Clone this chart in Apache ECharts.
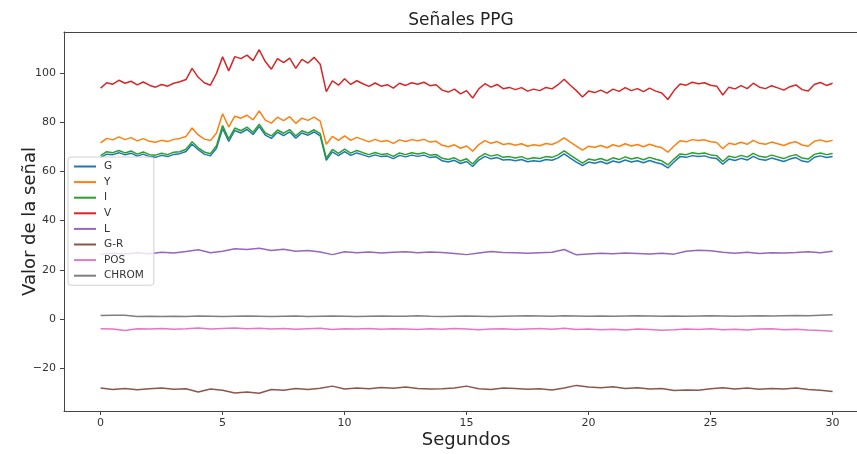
<!DOCTYPE html>
<html>
<head>
<meta charset="utf-8">
<script src="https://cdn.jsdelivr.net/npm/echarts@6/dist/echarts.min.js"></script>
<style>
  html, body { margin: 0; padding: 0; background: #fff; }
  #main { width: 857px; height: 454px; }
</style>
</head>
<body>
<div id="main"></div>
<script>
// señales muestreadas cada 0.25 s (G, Y, I, V) y cada 0.5 s (resto)
var stepFine = 0.25;
var stepCoarse = 0.5;

var gVals = [65.6, 67.0, 66.8, 67.6, 66.7, 67.4, 66.2, 67.0, 66.0, 65.7, 66.5, 66.0, 66.9, 67.2, 68.1, 71.0, 68.8, 67.0, 66.3, 69.4,
  77.4, 72.2, 76.6, 75.6, 77.0, 75.0, 78.2, 74.7, 73.4, 75.9, 74.5, 76.0, 73.5, 75.6, 74.7, 76.0, 74.4, 64.5, 67.9, 66.4,
  68.0, 66.5, 67.5, 66.7, 65.9, 66.7, 66.0, 66.2, 65.2, 66.5, 65.9, 66.6, 66.1, 66.6, 65.6, 65.9, 64.3, 63.8, 64.5, 63.2,
  64.0, 62.0, 64.6, 66.1, 65.1, 65.6, 64.6, 64.8, 64.3, 64.8, 63.9, 64.3, 64.0, 64.8, 64.5, 65.5, 67.1, 65.4, 63.8, 62.3,
  63.8, 63.3, 64.0, 63.1, 64.2, 63.6, 64.6, 63.8, 64.3, 63.5, 64.4, 63.6, 63.0, 61.4, 63.8, 66.0, 65.7, 66.4, 66.0, 66.3,
  65.5, 65.2, 62.9, 65.0, 64.4, 65.3, 64.6, 66.1, 64.9, 64.5, 65.4, 64.7, 64.0, 65.0, 65.6, 64.2, 63.8, 65.7, 66.3, 65.6, 66.0];

var yVals = [71.6, 73.4, 72.8, 74.0, 72.9, 73.7, 72.4, 73.3, 72.2, 71.8, 72.6, 72.1, 73.0, 73.4, 74.2, 77.6, 74.8, 73.1, 72.5, 75.6,
  83.4, 78.0, 82.4, 81.6, 82.8, 80.9, 84.6, 80.8, 79.6, 82.0, 80.6, 82.2, 79.5, 81.6, 80.7, 82.0, 80.4, 71.0, 74.2, 72.6,
  74.4, 72.6, 73.8, 72.9, 72.0, 73.0, 72.1, 72.5, 71.4, 72.8, 72.1, 72.9, 72.4, 73.0, 71.9, 72.2, 70.6, 70.0, 70.8, 69.4,
  70.3, 68.2, 70.9, 72.5, 71.4, 72.1, 70.9, 71.3, 70.6, 71.2, 70.2, 70.8, 70.4, 71.3, 70.9, 72.0, 73.6, 71.9, 70.3, 68.6,
  70.2, 69.8, 70.5, 69.6, 70.8, 70.1, 71.2, 70.3, 70.9, 70.0, 71.0, 70.2, 69.6, 67.8, 70.3, 72.4, 72.0, 72.9, 72.5, 72.8,
  72.0, 71.7, 69.2, 71.4, 70.9, 71.8, 71.0, 72.6, 71.4, 71.0, 71.9, 71.2, 70.5, 71.5, 72.0, 70.7, 70.2, 72.2, 72.8, 72.0, 72.6];

var iVals = [66.4, 68.0, 67.6, 68.5, 67.5, 68.3, 67.0, 67.9, 66.8, 66.6, 67.4, 66.8, 67.8, 68.0, 69.0, 72.0, 69.6, 67.9, 67.2, 70.4,
  78.6, 73.2, 77.6, 76.5, 78.0, 75.9, 79.2, 75.6, 74.4, 76.8, 75.5, 77.0, 74.4, 76.5, 75.6, 76.9, 75.3, 65.4, 68.9, 67.3,
  69.0, 67.4, 68.5, 67.6, 66.8, 67.7, 66.9, 67.2, 66.1, 67.5, 66.8, 67.6, 67.1, 67.6, 66.6, 66.9, 65.3, 64.8, 65.5, 64.2,
  65.1, 63.0, 65.7, 67.2, 66.2, 66.8, 65.7, 66.0, 65.4, 66.0, 65.0, 65.5, 65.2, 66.0, 65.7, 66.7, 68.3, 66.6, 65.0, 63.4,
  65.0, 64.5, 65.2, 64.3, 65.5, 64.8, 65.9, 65.0, 65.6, 64.7, 65.7, 64.9, 64.3, 62.6, 65.0, 67.1, 66.8, 67.6, 67.2, 67.5,
  66.7, 66.4, 64.0, 66.2, 65.6, 66.5, 65.8, 67.3, 66.1, 65.7, 66.6, 65.9, 65.2, 66.2, 66.8, 65.4, 65.0, 66.9, 67.5, 66.8, 67.3];

var vVals = [93.8, 96.0, 95.4, 97.0, 95.8, 96.6, 95.1, 96.3, 95.0, 94.2, 95.3, 94.6, 95.8, 96.4, 97.3, 101.8, 98.2, 96.0, 95.0, 99.8,
  106.5, 100.8, 106.6, 105.8, 107.2, 105.0, 109.4, 104.6, 101.5, 105.8, 104.2, 106.0, 101.8, 105.5, 104.0, 106.3, 103.5, 92.4, 96.8, 95.0,
  97.6, 95.3, 96.8, 95.6, 94.5, 95.9, 94.6, 95.2, 93.8, 95.8, 94.9, 96.0, 95.4, 96.2, 94.8, 95.2, 93.0, 92.2, 93.4, 91.5,
  92.8, 89.8, 93.5, 95.6, 94.2, 95.3, 93.6, 94.1, 93.2, 94.0, 92.6, 93.4, 92.8, 94.1, 93.5, 95.2, 97.4, 95.0, 92.8, 90.2,
  92.6, 92.0, 93.0, 91.8, 93.4, 92.5, 94.0, 92.8, 93.6, 92.4, 93.8, 92.6, 91.8, 89.2, 92.8, 95.5, 95.0, 96.2, 95.6, 96.0,
  95.0, 94.6, 91.0, 94.2, 93.5, 94.8, 93.6, 95.8, 94.2, 93.6, 94.8, 93.9, 93.0, 94.4, 95.1, 93.2, 92.6, 95.3, 96.1, 94.9, 95.8];

var lVals = [26.3, 26.8, 26.5, 27.0, 26.6, 27.2, 26.9, 27.5, 28.2, 27.0, 27.6, 28.6, 28.3, 28.8, 27.9, 28.4, 27.6, 27.9, 27.3, 26.2,
  27.4, 27.0, 27.3, 26.9, 27.2, 27.4, 27.0, 27.3, 27.1, 26.7, 26.2, 26.9, 27.5, 27.1, 27.0, 26.8, 27.0, 27.2, 28.3, 26.1,
  26.5, 26.8, 26.6, 26.9, 26.7, 26.5, 26.8, 26.4, 27.6, 28.0, 27.8, 27.2, 26.8, 27.2, 26.7, 27.0, 26.9, 27.1, 27.4, 27.0, 27.6];

var grVals = [-28.0, -28.6, -28.2, -28.7, -28.3, -28.0, -28.5, -28.3, -29.6, -28.4, -28.9, -30.0, -29.6, -30.1, -28.6, -28.9, -28.2, -28.6, -28.1, -27.2,
  -28.4, -28.0, -28.3, -27.8, -28.1, -27.6, -28.2, -28.4, -28.3, -28.0, -27.2, -28.3, -28.6, -28.0, -28.2, -28.5, -28.3, -28.8, -28.0, -26.9,
  -27.6, -27.9, -27.5, -28.2, -27.9, -28.4, -28.2, -29.0, -28.8, -28.9, -28.3, -27.9, -28.4, -28.0, -28.5, -28.2, -28.4, -28.0, -28.6, -28.9, -29.4];

var posVals = [-3.9, -4.0, -4.6, -3.9, -4.0, -3.8, -4.1, -3.9, -3.6, -4.0, -3.8, -3.6, -3.9, -3.7, -4.0, -3.8, -4.1, -3.9, -3.7, -4.2,
  -3.9, -4.0, -3.8, -4.1, -3.9, -4.0, -4.2, -3.9, -4.1, -3.8, -4.0, -4.3, -4.0, -3.9, -4.2, -4.0, -3.8, -4.1, -3.7, -4.2,
  -4.0, -4.3, -4.1, -4.4, -4.0, -4.2, -4.5, -4.3, -4.0, -4.2, -3.9, -4.3, -4.1, -4.4, -4.0, -3.9, -4.3, -4.1, -4.4, -4.6, -4.9];

var chromVals = [1.5, 1.6, 1.6, 1.1, 1.2, 1.1, 1.2, 1.1, 1.3, 1.2, 1.1, 1.2, 1.3, 1.2, 1.1, 1.2, 1.3, 1.1, 1.2, 1.3,
  1.2, 1.1, 1.2, 1.3, 1.2, 1.2, 1.4, 1.2, 1.1, 1.2, 1.3, 1.2, 1.1, 1.2, 1.3, 1.4, 1.3, 1.2, 1.4, 1.3,
  1.2, 1.3, 1.2, 1.3, 1.4, 1.3, 1.2, 1.3, 1.2, 1.3, 1.4, 1.3, 1.2, 1.3, 1.4, 1.3, 1.4, 1.5, 1.4, 1.6, 1.8];

var xTicks = [0, 5, 10, 15, 20, 25, 30];
var yTicks = [-20, 0, 20, 40, 60, 80, 100];

var names = ['G', 'Y', 'I', 'V', 'L', 'G-R', 'POS', 'CHROM'];
var colors = ['#1f77b4', '#ff7f0e', '#2ca02c', '#d62728', '#9467bd', '#8c564b', '#e377c2', '#7f7f7f'];

function pairs(vals, step) {
  return vals.map(function (v, i) { return [+(i * step).toFixed(2), v]; });
}

var dataSets = [
  pairs(gVals, stepFine), pairs(yVals, stepFine), pairs(iVals, stepFine), pairs(vVals, stepFine),
  pairs(lVals, stepCoarse), pairs(grVals, stepCoarse), pairs(posVals, stepCoarse), pairs(chromVals, stepCoarse)
];

var font = 'DejaVu Sans';
var frame = { color: '#444', width: 1 };
var myChart = echarts.init(document.getElementById('main'));

var option = {
  backgroundColor: '#fff',
  animation: false,
  color: colors,
  title: {
    text: 'Señales PPG',
    left: 456,
    textAlign: 'center',
    top: 7,
    textStyle: { fontFamily: font, fontSize: 17, fontWeight: 'normal', color: '#222' }
  },
  legend: {
    data: names,
    orient: 'vertical',
    left: 68,
    top: 157,
    icon: 'rect',
    itemWidth: 22,
    itemHeight: 2,
    itemGap: 2.6,
    padding: [3, 10, 3, 6],
    backgroundColor: 'rgba(255,255,255,0.8)',
    borderColor: '#d0d0d0',
    borderWidth: 1,
    borderRadius: 3,
    textStyle: { fontFamily: font, fontSize: 10.5, lineHeight: 13, color: '#333', padding: [0, 0, 0, 3] }
  },
  grid: {
    left: 64,
    top: 32,
    right: 0,
    height: 380,
    show: false
  },
  xAxis: [{
    type: 'value',
    min: -1.5,
    max: 31.0,
    name: 'Segundos',
    nameLocation: 'middle',
    nameGap: 20,
    nameMoveOverlap: false,
    nameTextStyle: { fontFamily: font, fontSize: 18, color: '#222', padding: [0, 0, 0, 11] },
    axisLine: { show: true, onZero: false, lineStyle: frame },
    splitLine: { show: false },
    axisTick: { show: true, length: 4, customValues: xTicks, lineStyle: { color: '#444' } },
    axisLabel: { customValues: xTicks, margin: 7, fontFamily: font, fontSize: 11, color: '#333' }
  }, {
    type: 'value',
    position: 'top',
    min: -1.5,
    max: 31.0,
    axisLine: { show: true, onZero: false, lineStyle: frame },
    axisTick: { show: false },
    axisLabel: { show: false },
    splitLine: { show: false }
  }],
  yAxis: {
    type: 'value',
    min: -37.3,
    max: 116.6,
    name: 'Valor de la señal',
    nameLocation: 'middle',
    nameGap: 25,
    nameMoveOverlap: false,
    nameTextStyle: { fontFamily: font, fontSize: 18, color: '#222' },
    axisLine: { show: true, onZero: false, lineStyle: frame },
    splitLine: { show: false },
    axisTick: { show: true, length: 4, customValues: yTicks, lineStyle: { color: '#444' } },
    axisLabel: {
      customValues: yTicks, margin: 8, fontFamily: font, fontSize: 11, color: '#333',
      formatter: function (v) { return v < 0 ? '\u2212' + Math.abs(v) : String(v); }
    }
  },
  series: names.map(function (n, k) {
    return {
      name: n,
      type: 'line',
      xAxisIndex: 0,
      data: dataSets[k],
      showSymbol: false,
      symbol: 'none',
      lineStyle: { width: 1.5, color: colors[k] },
      itemStyle: { color: colors[k] }
    };
  })
};

myChart.setOption(option);
</script>
</body>
</html>
